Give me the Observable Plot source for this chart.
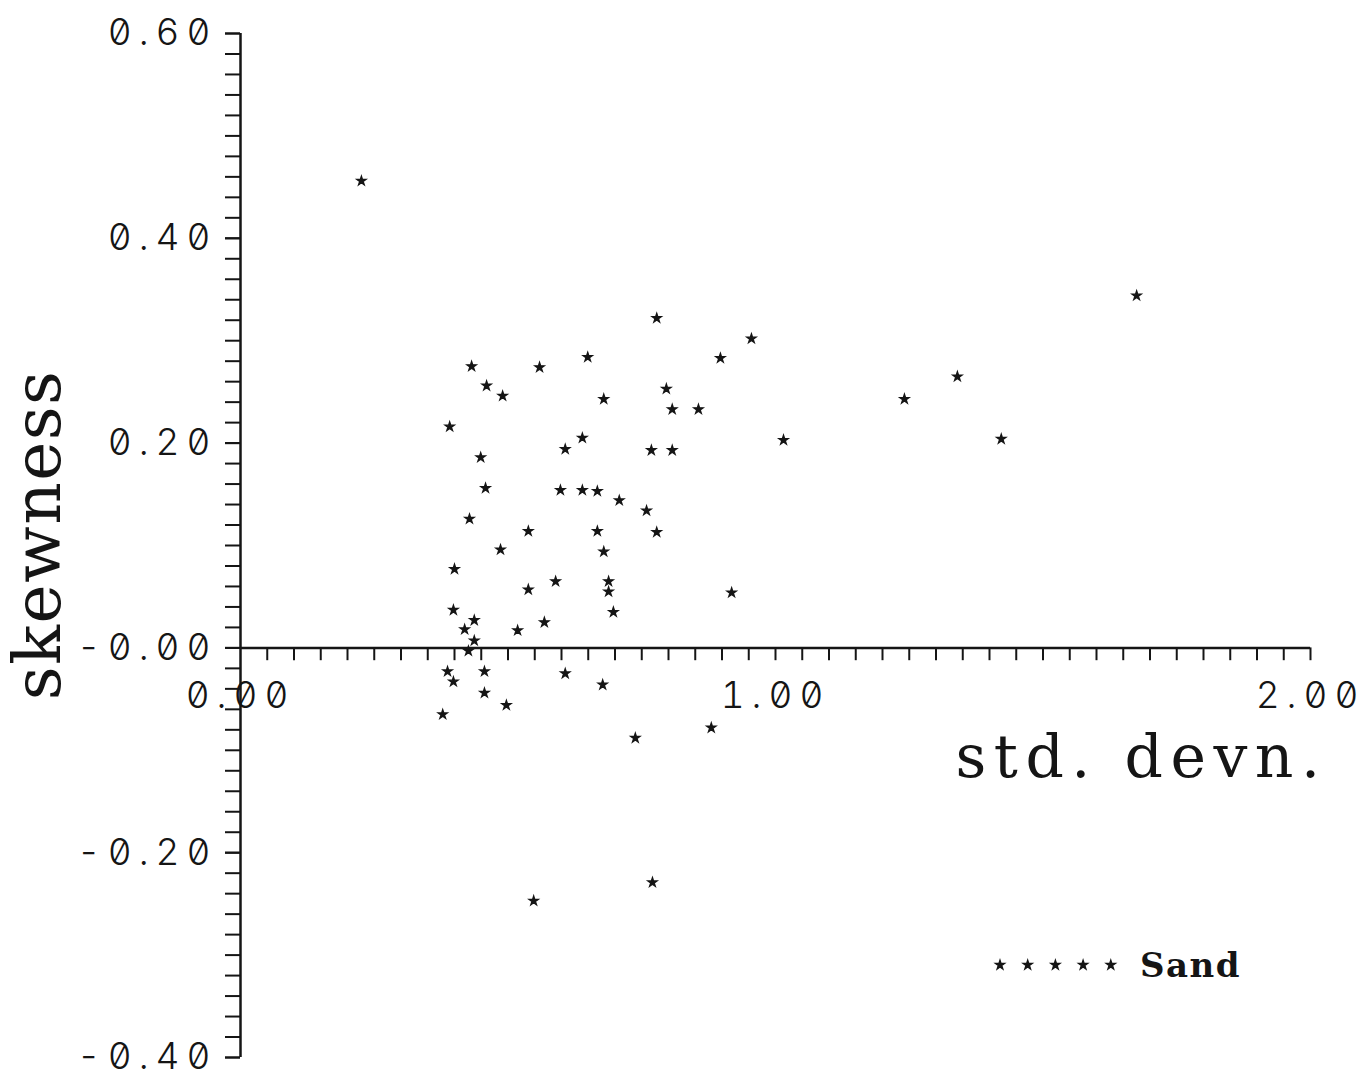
<!DOCTYPE html>
<html>
<head>
<meta charset="utf-8">
<script src="https://cdn.jsdelivr.net/npm/d3@7"></script>
<script src="https://cdn.jsdelivr.net/npm/@observablehq/plot@0.6"></script>
<style>
  html, body { margin: 0; padding: 0; background: #fff; }
  #wrap { position: relative; width: 1366px; height: 1073px; overflow: hidden; }
  #wrap svg { display: block; }
  g[aria-label="y-axis tick label"] text, text.ticklab {
    letter-spacing: 7px;
    font-variant-numeric: tabular-nums slashed-zero;
    font-feature-settings: "tnum" 1, "zero" 1;
  }
  text.xtitle { letter-spacing: 7.5px; }
  text.ytitle { letter-spacing: 1.5px; }
  #legend {
    position: absolute; left: 992px; top: 945px;
    display: flex; align-items: center; gap: 22px;
    font-family: "DejaVu Serif", serif;
    font-weight: bold; font-size: 34px; letter-spacing: 1.5px; color: #151515;
  }
</style>
</head>
<body>
<div id="wrap"></div>
<script>
// ---- data ----
const stdDevn = [
  0.226, 0.778, 0.955, 0.897, 0.649, 0.432, 0.559, 0.460, 0.490, 0.796,
  0.679, 0.807, 0.856, 0.391, 0.639, 0.607, 0.768, 0.807, 0.449, 0.458,
  0.598, 0.639, 0.667, 0.708, 0.759, 0.428, 0.538, 0.667, 0.778, 0.486,
  0.679, 0.400, 0.589, 0.688, 0.538, 0.688, 0.918, 0.398, 0.697, 0.437,
  0.568, 0.419, 0.518, 0.437, 0.426, 0.387, 0.456, 0.607, 0.398, 0.677,
  0.456, 0.497, 0.378, 0.880, 0.738, 0.548, 0.770, 1.015, 1.241, 1.340,
  1.422, 1.675
];
const skewness = [
  0.456, 0.322, 0.302, 0.283, 0.284, 0.275, 0.274, 0.256, 0.246, 0.253,
  0.243, 0.233, 0.233, 0.216, 0.205, 0.194, 0.193, 0.193, 0.186, 0.156,
  0.154, 0.154, 0.153, 0.144, 0.134, 0.126, 0.114, 0.114, 0.113, 0.096,
  0.094, 0.077, 0.065, 0.065, 0.057, 0.055, 0.054, 0.037, 0.035, 0.027,
  0.025, 0.018, 0.017, 0.007, -0.003, -0.023, -0.023, -0.025, -0.033, -0.036,
  -0.044, -0.056, -0.065, -0.078, -0.088, -0.247, -0.229, 0.203, 0.243, 0.265,
  0.204, 0.344
];
const xTickValues = [0, 1, 2];
const xTickLabels = ["0.00", "1.00", "2.00"];
const yTickValues = [-0.4, -0.2, 0, 0.2, 0.4, 0.6];
const yTickLabels = ["-0.40", "-0.20", "-0.00", "0.20", "0.40", "0.60"];
const xMinorTicks = d3.range(1, 41).map(i => i * 0.05);
const yMinorTicks = d3.range(0, 51).map(i => -0.4 + i * 0.02);
const xTitle = "std. devn.";
const yTitle = "skewness";
const seriesName = "Sand";

// ---- chart ----
const points = stdDevn.map((x, i) => ({x, y: skewness[i]}));
const ink = "#151515";
const tickFont = {fontFamily: "Inter, 'DejaVu Sans', sans-serif", fontWeight: 300, fontSize: 37, fill: ink};
const titleFont = {fontFamily: "'DejaVu Serif', serif", fill: ink};

const chart = Plot.plot({
  width: 1366,
  height: 1073,
  marginLeft: 240,
  marginRight: 56,
  marginTop: 33,
  marginBottom: 16,
  style: {background: "#fff", color: ink},
  x: {domain: [0, 2], axis: null},
  y: {domain: [-0.4, 0.6], label: null},
  marks: [
    // y axis: minor ticks + labelled ticks
    Plot.axisY(yMinorTicks, {anchor: "left", tickSize: 15, tickFormat: () => "", label: null, stroke: ink, strokeWidth: 2}),
    Plot.axisY(yTickValues, {
      anchor: "left", tickSize: 15, tickPadding: 8, label: null,
      tickFormat: d => yTickLabels[yTickValues.indexOf(d)],
      stroke: ink, strokeWidth: 2, ...tickFont
    }),
    Plot.ruleX([0], {y1: -0.4, y2: 0.6, stroke: ink, strokeWidth: 2.5}),
    // x axis drawn through y = 0
    Plot.ruleY([0], {x1: 0, x2: 2, stroke: ink, strokeWidth: 2.5}),
    Plot.ruleX(xMinorTicks, {x: d => d, y1: 0, y2: -0.0125, stroke: ink, strokeWidth: 2}),
    Plot.text(xTickValues, {
      x: d => d, y: 0, text: (d, i) => xTickLabels[i], dy: 48, dx: 0,
      textAnchor: "middle", ...tickFont
    }),
    // axis titles
    Plot.text([xTitle], {
      x: 2, y: 0, text: d => d, textAnchor: "end", dy: 110, dx: 17,
      fontSize: 60, ...titleFont
    }),
    Plot.text([yTitle], {
      x: 0, y: 0, text: d => d, rotate: -90, dx: -202, dy: -113,
      fontSize: 66, ...titleFont
    }),
    // data points
    Plot.dot(points, {x: "x", y: "y", symbol: "star", r: 2.9, fill: ink, stroke: ink, strokeWidth: 1.3})
  ]
});
// tag texts for letter-spacing styles
d3.select(chart).selectAll("text").each(function() {
  const t = this.textContent;
  if (xTickLabels.includes(t)) this.classList.add("ticklab");
  else if (t === xTitle) this.classList.add("xtitle");
  else if (t === yTitle) this.classList.add("ytitle");
});
document.getElementById("wrap").appendChild(chart);

// ---- legend (overlay) ----
const legend = d3.select("#wrap").append("div").attr("id", "legend");
const lsvg = legend.append("svg").attr("width", 126).attr("height", 20);
const starPath = d3.symbol(d3.symbolStar, Math.PI * 2.9 * 2.9)();
lsvg.selectAll("path").data(d3.range(5)).join("path")
  .attr("d", starPath)
  .attr("transform", i => `translate(${8 + i * 27.7},10)`)
  .attr("fill", ink).attr("stroke", ink).attr("stroke-width", 1.3);
legend.append("span").text(seriesName);
</script>
</body>
</html>
